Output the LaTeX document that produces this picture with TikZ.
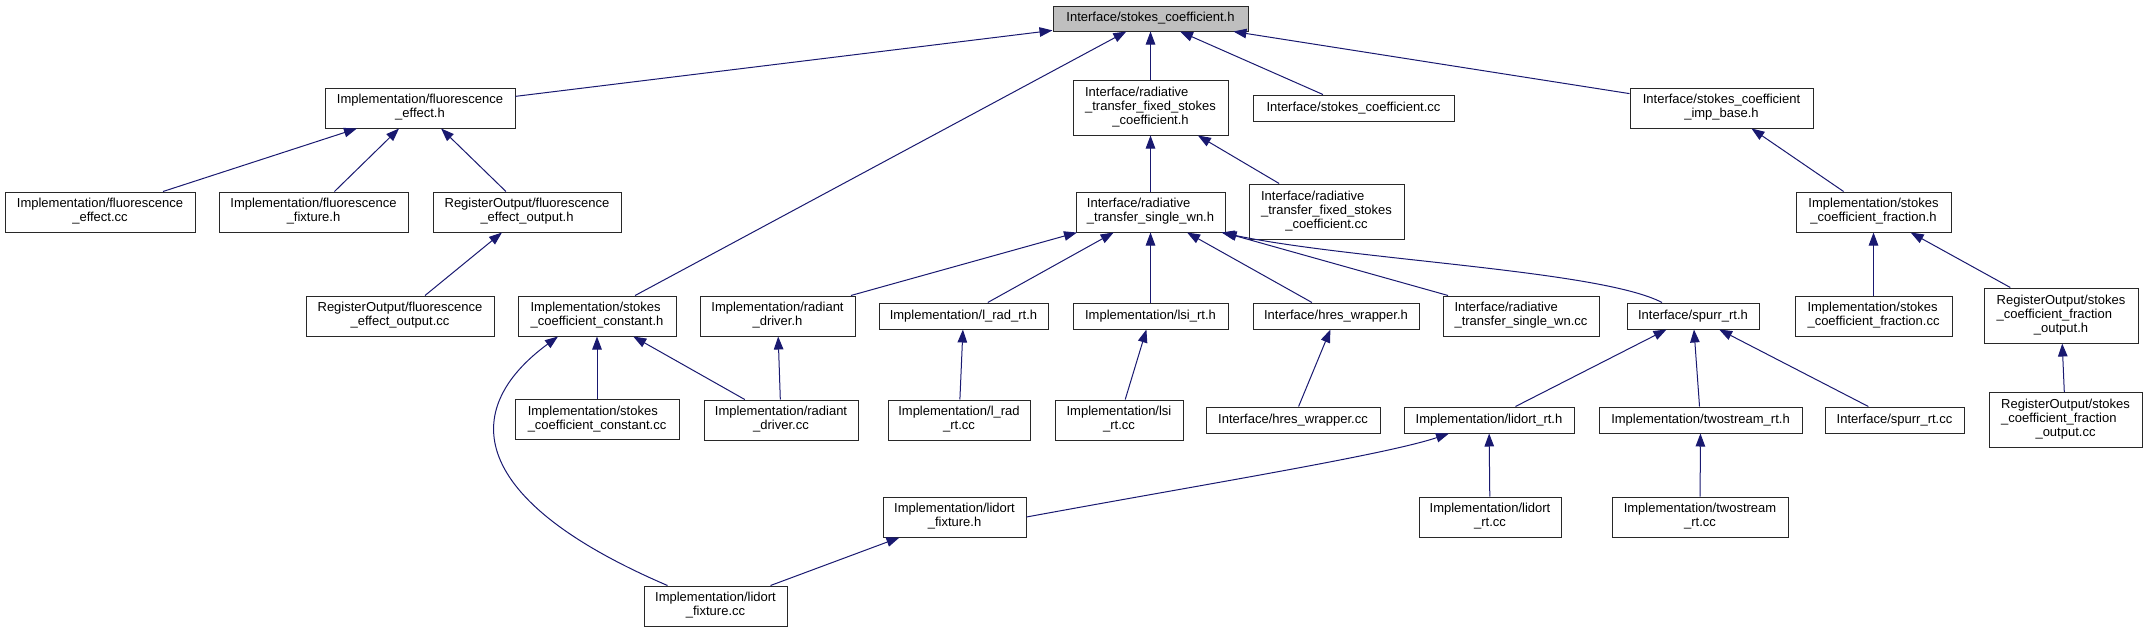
\documentclass[tikz,border=0pt]{standalone}
\usepackage{fontspec}
\setmainfont{Liberation Sans}
\usepackage{xcolor}
\usepackage{tikz}
\usetikzlibrary{arrows.meta}
\definecolor{edgeblue}{RGB}{25,25,112}
\definecolor{rootgray}{RGB}{191,191,191}
\definecolor{boxline}{RGB}{40,40,40}
% label: first lines left-aligned, last line centred
\newcommand{\flab}[2]{\begin{tabular}{@{}l@{}}#1\\\multicolumn{1}{@{}c@{}}{#2}\end{tabular}}

\begin{document}
\begin{tikzpicture}[
    x=1pt, y=-1pt,
    box/.style={draw=boxline, line width=1pt, fill=white, inner sep=0pt,
                font=\fontsize{13}{14}\selectfont},
    one/.style={minimum height=26},
    two/.style={minimum height=40},
    three/.style={minimum height=55},
    rootbox/.style={box, fill=rootgray, minimum height=25},
    arr/.style={-{Triangle[length=13pt, width=9.5pt]}, line width=1pt, edgeblue}
]
\useasboundingbox (0,0) rectangle (2147,632);

% rank 0
\node[rootbox, minimum width=195] (root) at (1150.5,18.5) {Interface/stokes\_coefficient.h};

% rank 1
\node[box, two, minimum width=190] (fluor_h) at (420,108) {\flab{Implementation/fluorescence}{\_effect.h}};
\node[box, three, minimum width=155] (rtfix_h) at (1150.5,107.5) {\flab{Interface/radiative\\\_transfer\_fixed\_stokes}{\_coefficient.h}};
\node[box, one, minimum width=201] (stokes_cc) at (1353.5,108) {Interface/stokes\_coefficient.cc};
\node[box, two, minimum width=183] (impbase_h) at (1721.5,108) {\flab{Interface/stokes\_coefficient}{\_imp\_base.h}};

% rank 2
\node[box, two, minimum width=190] (fluor_cc) at (100,212) {\flab{Implementation/fluorescence}{\_effect.cc}};
\node[box, two, minimum width=189] (fixture_h) at (313.5,212) {\flab{Implementation/fluorescence}{\_fixture.h}};
\node[box, two, minimum width=188] (effout_h) at (527,212) {\flab{RegisterOutput/fluorescence}{\_effect\_output.h}};
\node[box, two, minimum width=149] (rtsingle_h) at (1150.5,212) {\flab{Interface/radiative}{\_transfer\_single\_wn.h}};
\node[box, three, minimum width=155] (rtfix_cc) at (1326.5,211.5) {\flab{Interface/radiative\\\_transfer\_fixed\_stokes}{\_coefficient.cc}};
\node[box, two, minimum width=155] (fraction_h) at (1873.5,212) {\flab{Implementation/stokes}{\_coefficient\_fraction.h}};

% rank 3
\node[box, two, minimum width=188] (effout_cc) at (400,316) {\flab{RegisterOutput/fluorescence}{\_effect\_output.cc}};
\node[box, two, minimum width=158] (const_h) at (597,316) {\flab{Implementation/stokes}{\_coefficient\_constant.h}};
\node[box, two, minimum width=155] (radiant_h) at (777.5,316) {\flab{Implementation/radiant}{\_driver.h}};
\node[box, one, minimum width=169] (lrad_h) at (963.5,316) {Implementation/l\_rad\_rt.h};
\node[box, one, minimum width=155] (lsi_h) at (1150.5,316) {Implementation/lsi\_rt.h};
\node[box, one, minimum width=166] (hres_h) at (1336,316) {Interface/hres\_wrapper.h};
\node[box, two, minimum width=156] (rtsingle_cc) at (1521,316) {\flab{Interface/radiative}{\_transfer\_single\_wn.cc}};
\node[box, one, minimum width=132] (spurr_h) at (1693,316) {Interface/spurr\_rt.h};
\node[box, two, minimum width=157] (fraction_cc) at (1873.5,316) {\flab{Implementation/stokes}{\_coefficient\_fraction.cc}};
\node[box, three, minimum width=154] (fracout_h) at (2061,315.5) {\flab{RegisterOutput/stokes\\\_coefficient\_fraction}{\_output.h}};

% rank 4
\node[box, two, minimum width=164] (const_cc) at (597,419.5) {\flab{Implementation/stokes}{\_coefficient\_constant.cc}};
\node[box, two, minimum width=154] (radiant_cc) at (781,420) {\flab{Implementation/radiant}{\_driver.cc}};
\node[box, two, minimum width=142] (lrad_cc) at (959,420) {\flab{Implementation/l\_rad}{\_rt.cc}};
\node[box, two, minimum width=128] (lsi_cc) at (1119,420) {\flab{Implementation/lsi}{\_rt.cc}};
\node[box, one, minimum width=174] (hres_cc) at (1293,420) {Interface/hres\_wrapper.cc};
\node[box, one, minimum width=170] (lidort_h) at (1489,420) {Implementation/lidort\_rt.h};
\node[box, one, minimum width=203] (twostream_h) at (1700.5,420) {Implementation/twostream\_rt.h};
\node[box, one, minimum width=139] (spurr_cc) at (1894.5,420) {Interface/spurr\_rt.cc};
\node[box, three, minimum width=153] (fracout_cc) at (2065.5,420) {\flab{RegisterOutput/stokes\\\_coefficient\_fraction}{\_output.cc}};

% rank 5 and 6
\node[box, two, minimum width=143] (lfix_h) at (954.5,517) {\flab{Implementation/lidort}{\_fixture.h}};
\node[box, two, minimum width=142] (lidort_cc) at (1490,517) {\flab{Implementation/lidort}{\_rt.cc}};
\node[box, two, minimum width=176] (twostream_cc) at (1700,517) {\flab{Implementation/twostream}{\_rt.cc}};
\node[box, two, minimum width=143] (lfix_cc) at (715.5,606) {\flab{Implementation/lidort}{\_fixture.cc}};

% edges into the root
\draw[arr] (fluor_h) -- (root);
\draw[arr] (const_h) -- (root);
\draw[arr] (rtfix_h) -- (root);
\draw[arr] (stokes_cc) -- (root);
\draw[arr] (impbase_h) -- (root);

% fluorescence branch
\draw[arr] (fluor_cc) -- (fluor_h);
\draw[arr] (fixture_h) -- (fluor_h);
\draw[arr] (effout_h) -- (fluor_h);
\draw[arr] (effout_cc) -- (effout_h);

% radiative transfer branch
\draw[arr] (rtsingle_h) -- (rtfix_h);
\draw[arr] (rtfix_cc) -- (rtfix_h);
\draw[arr] (radiant_h) -- (rtsingle_h);
\draw[arr] (lrad_h) -- (rtsingle_h);
\draw[arr] (lsi_h) -- (rtsingle_h);
\draw[arr] (hres_h) -- (rtsingle_h);
\draw[arr] (rtsingle_cc) -- (rtsingle_h);
\draw[arr] ([xshift=-31pt]spurr_h.north) .. controls (1600,270) and (1350,260) .. ([xshift=-4pt]rtsingle_h.south east);
\draw[arr] (radiant_cc) -- (radiant_h);
\draw[arr] (lrad_cc) -- (lrad_h);
\draw[arr] (lsi_cc) -- (lsi_h);
\draw[arr] (hres_cc) -- (hres_h);
\draw[arr] (lidort_h) -- (spurr_h);
\draw[arr] (twostream_h) -- (spurr_h);
\draw[arr] (spurr_cc) -- (spurr_h);
\draw[arr] (lfix_h.east) .. controls (1200,485) and (1385,455) .. ([xshift=-40pt]lidort_h.south);
\draw[arr] (lidort_cc) -- (lidort_h);
\draw[arr] (twostream_cc) -- (twostream_h);

% constant coefficient branch
\draw[arr] (const_cc) -- (const_h);
\draw[arr] (radiant_cc) -- (const_h);
\draw[arr] ([xshift=-48pt]lfix_cc.north) .. controls (468,500) and (458,410) .. ([xshift=-39pt]const_h.south);
\draw[arr] (lfix_cc) -- (lfix_h);

% fraction branch
\draw[arr] (fraction_h) -- (impbase_h);
\draw[arr] (fraction_cc) -- (fraction_h);
\draw[arr] (fracout_h) -- (fraction_h);
\draw[arr] (fracout_cc) -- (fracout_h);
\end{tikzpicture}
\end{document}
